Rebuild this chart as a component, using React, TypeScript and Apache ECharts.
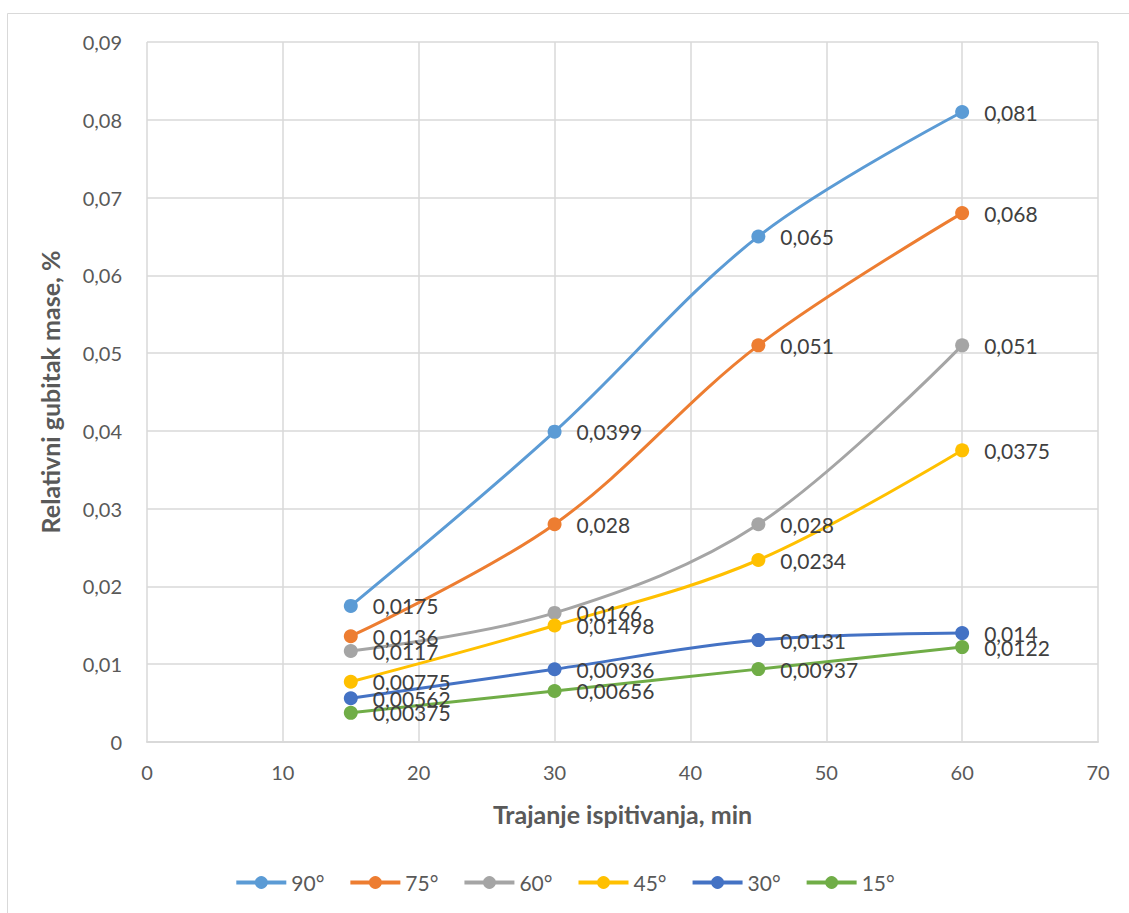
import React, { useEffect, useRef } from "react";
import * as echarts from "echarts";

const durations = [15, 30, 45, 60];
const seriesNames = ["90°", "75°", "60°", "45°", "30°", "15°"];
const s90 = [0.0175, 0.0399, 0.065, 0.081];
const s75 = [0.0136, 0.028, 0.051, 0.068];
const s60 = [0.0117, 0.0166, 0.028, 0.051];
const s45 = [0.00775, 0.01498, 0.0234, 0.0375];
const s30 = [0.00562, 0.00936, 0.0131, 0.014];
const s15 = [0.00375, 0.00656, 0.00937, 0.0122];
const colors = ["#5B9BD5", "#ED7D31", "#A5A5A5", "#FFC000", "#4472C4", "#70AD47"];
const xTitle = "Trajanje ispitivanja, min";
const yTitle = "Relativni gubitak mase, %";

const FONT = "Lato, 'Noto Sans', sans-serif";

export default function App() {
  const ref = useRef<HTMLDivElement>(null);
  useEffect(() => {
    const chart = echarts.init(ref.current!, null, { renderer: "svg" });
    const all = [s90, s75, s60, s45, s30, s15];
    const series = all.map((vals, i) => ({
      name: seriesNames[i],
      type: "line",
      smooth: 0.35,
      data: vals.map((v, j) => [durations[j], v]),
      symbol: "circle",
      symbolSize: 14,
      lineStyle: { width: 3, color: colors[i] },
      itemStyle: { color: colors[i] },
      label: {
        show: true,
        position: "right",
        distance: 15,
        color: "#404040",
        fontSize: 21,
        fontFamily: FONT,
        formatter: (p: any) => String(p.value[1]).replace(".", ","),
      },
    }));
    chart.setOption({
      animation: false,
      color: colors,
      textStyle: { fontFamily: FONT },
      graphic: [
        {
          type: "rect",
          shape: { x: 7.5, y: 13.5, width: 1140, height: 920 },
          style: { fill: "none", stroke: "#d9d9d9", lineWidth: 1 },
          silent: true,
        },
      ],
      grid: { left: 147, right: 31, top: 42, bottom: 171, containLabel: false },
      legend: {
        bottom: 15,
        left: "center",
        itemWidth: 50,
        itemHeight: 16,
        itemGap: 24,
        textStyle: { fontSize: 21, color: "#595959", fontFamily: FONT },
        data: seriesNames.map((n) => ({ name: n, itemStyle: {}, lineStyle: { width: 4 } })),
      },
      xAxis: {
        type: "value",
        min: 0,
        max: 70,
        interval: 10,
        name: xTitle,
        nameLocation: "middle",
        nameGap: 59,
        nameTextStyle: { fontSize: 25, fontWeight: "bold", color: "#595959", fontFamily: FONT },
        axisLine: { show: true, lineStyle: { color: "#d9d9d9", width: 2 } },
        axisTick: { show: false },
        axisLabel: { fontSize: 20, color: "#595959", margin: 20, fontFamily: FONT },
        splitLine: { show: true, lineStyle: { color: "#d9d9d9", width: 1.5 } },
      },
      yAxis: {
        type: "value",
        min: 0,
        max: 0.09,
        interval: 0.01,
        name: yTitle,
        nameLocation: "middle",
        nameGap: 85,
        nameTextStyle: { fontSize: 25, fontWeight: "bold", color: "#595959", fontFamily: FONT },
        axisLine: { show: false },
        axisTick: { show: false },
        axisLabel: {
          fontSize: 20,
          color: "#595959",
          margin: 25,
          fontFamily: FONT,
          formatter: (v: number) => (v === 0 ? "0" : v.toFixed(2).replace(".", ",")),
        },
        splitLine: { show: true, lineStyle: { color: "#d9d9d9", width: 1.5 } },
      },
      series,
    });
    return () => chart.dispose();
  }, []);
  return (
    <div
      ref={ref}
      style={{ position: "absolute", left: 0, top: 0, width: 1129, height: 913, background: "#fff" }}
    />
  );
}
